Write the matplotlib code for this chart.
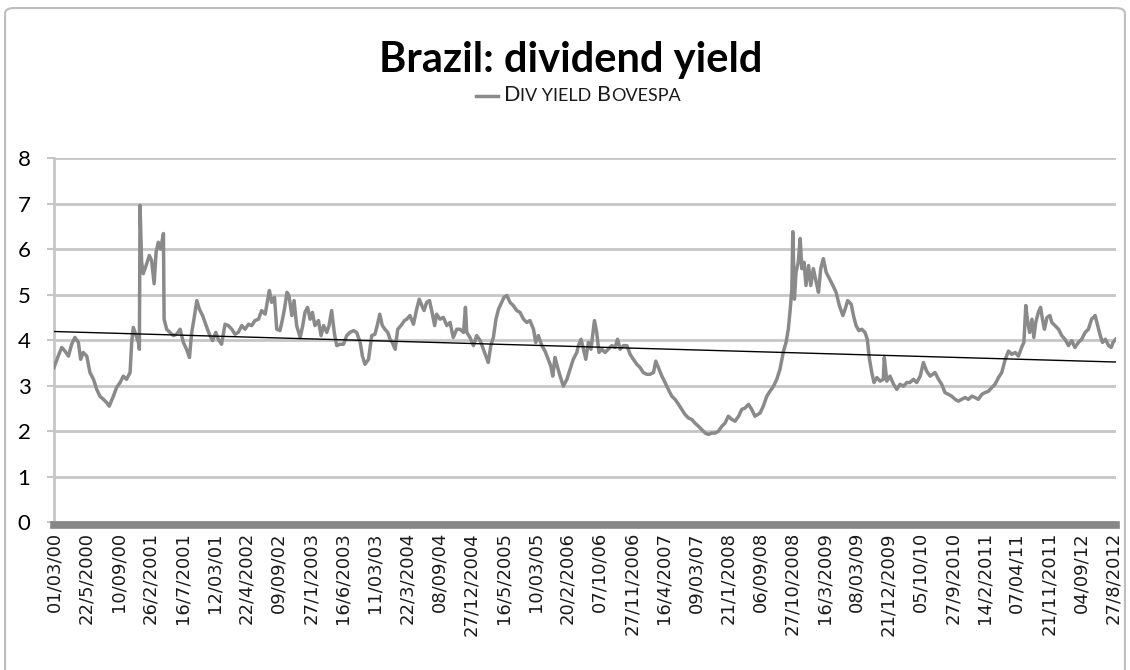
#Brazil: dividend yield (Bovespa), with linear trend line

import matplotlib.pyplot as plt
import numpy as np
from matplotlib.patches import FancyBboxPatch
from matplotlib.offsetbox import TextArea, HPacker, DrawingArea, AnchoredOffsetbox
from matplotlib.lines import Line2D

#Category axis labels, as printed under the chart
date_labels = ["01/03/00", "22/5/2000", "10/09/00", "26/2/2001", "16/7/2001", "12/03/01",
               "22/4/2002", "09/09/02", "27/1/2003", "16/6/2003", "11/03/03", "22/3/2004",
               "08/09/04", "27/12/2004", "16/5/2005", "10/03/05", "20/2/2006", "07/10/06",
               "27/11/2006", "16/4/2007", "09/03/07", "21/1/2008", "06/09/08", "27/10/2008",
               "16/3/2009", "08/03/09", "21/12/2009", "05/10/10", "27/9/2010", "14/2/2011",
               "07/04/11", "21/11/2011", "04/09/12", "27/8/2012"]

#Position of each reading along the category axis (label index units)
obs_pos = [0.00, 0.13, 0.24, 0.34, 0.45, 0.55, 0.65, 0.76, 0.83, 0.91, 1.02, 1.12, 1.23, 1.33,
           1.43, 1.54, 1.64, 1.72, 1.85, 1.95, 2.06, 2.16, 2.26, 2.37, 2.42, 2.47, 2.56, 2.63,
           2.66, 2.68, 2.73, 2.78, 2.87, 2.97, 3.04, 3.12, 3.18, 3.25, 3.32, 3.41, 3.43, 3.51,
           3.61, 3.72, 3.82, 3.93, 4.03, 4.13, 4.22, 4.29, 4.36, 4.45, 4.53, 4.63, 4.74, 4.84,
           4.94, 5.04, 5.12, 5.22, 5.33, 5.43,
           5.54, 5.64, 5.74, 5.85, 5.95, 6.06, 6.16, 6.26, 6.37, 6.47, 6.58, 6.66, 6.71, 6.78,
           6.87, 6.94, 7.04, 7.12, 7.18, 7.26, 7.32, 7.41, 7.48, 7.56, 7.67, 7.75, 7.82, 7.90,
           7.98, 8.05, 8.13, 8.24, 8.32, 8.40, 8.50, 8.57, 8.65, 8.74, 8.81, 8.91, 9.02, 9.12,
           9.22, 9.33, 9.43, 9.54, 9.61, 9.69, 9.80, 9.90, 10.00, 10.08, 10.15, 10.23, 10.31,
           10.40, 10.47, 10.54, 10.63, 10.71, 10.81, 10.92,
           10.99, 11.09, 11.20, 11.30, 11.38, 11.46, 11.53, 11.61, 11.70, 11.78, 11.86, 11.92,
           12.03, 12.13, 12.24, 12.34, 12.44, 12.55, 12.65, 12.76, 12.82, 12.86, 12.96, 13.07,
           13.17, 13.28, 13.38, 13.46, 13.53, 13.61, 13.69, 13.77, 13.85, 13.95, 14.02, 14.11,
           14.21, 14.31, 14.42, 14.52, 14.63, 14.73, 14.83, 14.94, 15.01, 15.09, 15.20, 15.30,
           15.40, 15.48, 15.54, 15.61, 15.68, 15.77, 15.87, 15.98, 16.08, 16.18, 16.29,
           16.34, 16.42, 16.50, 16.57, 16.65, 16.73, 16.84, 16.91, 16.98, 17.07, 17.17, 17.27,
           17.38, 17.48, 17.56, 17.64, 17.74, 17.85, 17.95, 18.05, 18.16, 18.26, 18.36, 18.47,
           18.57, 18.68, 18.75, 18.83, 18.94, 19.04, 19.14, 19.25, 19.35, 19.46, 19.56, 19.66,
           19.77, 19.87, 19.97, 20.08, 20.18, 20.29, 20.39, 20.49, 20.60, 20.70, 20.81, 20.91,
           21.01, 21.12, 21.22, 21.33, 21.43, 21.53, 21.64, 21.74, 21.84,
           22.00, 22.10, 22.21, 22.31, 22.42, 22.52, 22.62, 22.73, 22.81, 22.88, 22.94, 22.99,
           23.02, 23.07, 23.12, 23.19, 23.25, 23.30, 23.37, 23.43, 23.51, 23.58, 23.66, 23.75,
           23.82, 23.89, 23.97, 24.06, 24.16, 24.27, 24.37, 24.47, 24.58, 24.65, 24.73, 24.84,
           24.91, 24.99, 25.08, 25.17, 25.27, 25.34, 25.41, 25.48, 25.55, 25.64, 25.74, 25.84,
           25.87, 25.95, 26.05, 26.16, 26.26, 26.36, 26.47, 26.57, 26.67, 26.78, 26.88, 26.99,
           27.09, 27.19, 27.30,
           27.45, 27.56, 27.66, 27.76, 27.87, 27.97, 28.08, 28.18, 28.28, 28.39, 28.49, 28.60,
           28.70, 28.80, 28.91, 29.01, 29.12, 29.22, 29.32, 29.43, 29.53, 29.64, 29.74, 29.84,
           29.95, 30.05, 30.15, 30.22, 30.28, 30.34, 30.40, 30.47, 30.53, 30.59, 30.67, 30.74,
           30.80, 30.86, 30.94, 31.03, 31.09, 31.19, 31.30, 31.40, 31.50, 31.61, 31.71, 31.81,
           31.92, 32.02, 32.13, 32.23, 32.33, 32.44, 32.52, 32.60, 32.67, 32.76, 32.86, 32.94,
           33.00, 33.08]

#Dividend yield of the Bovespa index (%)
div_yield = [3.40, 3.65, 3.84, 3.76, 3.65, 3.91, 4.06, 3.95, 3.58, 3.73, 3.65, 3.29, 3.14, 2.92,
             2.77, 2.70, 2.63, 2.55, 2.77, 2.96, 3.07, 3.21, 3.14, 3.29, 3.95, 4.28, 4.10, 3.95,
             3.80, 6.96, 5.71, 5.46, 5.64, 5.86, 5.75, 5.24, 5.93, 6.15, 6.00, 6.34, 4.46, 4.24,
             4.17, 4.10, 4.13, 4.24, 3.95, 3.80, 3.62, 4.17, 4.46, 4.87, 4.68, 4.54, 4.32, 4.13,
             3.99, 4.17, 4.02, 3.91, 4.35, 4.32,
             4.24, 4.13, 4.17, 4.32, 4.24, 4.35, 4.32, 4.43, 4.46, 4.65, 4.57, 4.90, 5.09, 4.83,
             4.94, 4.24, 4.21, 4.46, 4.68, 5.05, 4.98, 4.54, 4.87, 4.32, 4.06, 4.32, 4.61, 4.72,
             4.46, 4.61, 4.32, 4.43, 4.10, 4.32, 4.17, 4.32, 4.65, 4.13, 3.88, 3.91, 3.91, 4.10,
             4.17, 4.21, 4.17, 3.95, 3.65, 3.47, 3.58, 4.10, 4.13, 4.35, 4.57, 4.32, 4.24,
             4.17, 4.02, 3.95, 3.80, 4.24, 4.32, 4.43,
             4.46, 4.54, 4.35, 4.68, 4.90, 4.76, 4.65, 4.83, 4.87, 4.61, 4.32, 4.57,
             4.46, 4.50, 4.32, 4.39, 4.06, 4.24, 4.24, 4.17, 4.72, 4.17, 4.06, 3.88,
             4.10, 3.99, 3.80, 3.65, 3.51, 3.88, 4.06, 4.46, 4.68, 4.83, 4.94, 4.98,
             4.83, 4.76, 4.65, 4.61, 4.46, 4.39, 4.43, 4.24, 3.95, 4.10, 3.88, 3.76,
             3.58, 3.43, 3.21, 3.62, 3.43, 3.21, 2.99, 3.14, 3.36, 3.58, 3.73,
             3.88, 4.02, 3.80, 3.58, 3.95, 3.80, 4.43, 4.17, 3.73, 3.80, 3.73, 3.80,
             3.88, 3.84, 4.02, 3.80, 3.88, 3.88, 3.69, 3.58, 3.47, 3.40, 3.29, 3.25,
             3.25, 3.29, 3.54, 3.40, 3.21, 3.07, 2.92, 2.77, 2.70, 2.59, 2.48, 2.37,
             2.29, 2.26, 2.18, 2.11, 2.04, 1.96, 1.93, 1.96, 1.96, 2.00, 2.11, 2.18,
             2.33, 2.26, 2.22, 2.33, 2.48, 2.51, 2.59, 2.48, 2.33,
             2.40, 2.55, 2.77, 2.88, 2.99, 3.14, 3.36, 3.76, 3.95, 4.24, 4.68, 5.13,
             6.38, 4.90, 5.49, 5.71, 6.23, 5.57, 5.71, 5.20, 5.64, 5.20, 5.57, 5.27,
             5.05, 5.57, 5.79, 5.49, 5.35, 5.20, 5.05, 4.76, 4.54, 4.68, 4.87, 4.79,
             4.54, 4.32, 4.21, 4.24, 4.17, 4.02, 3.58, 3.29, 3.07, 3.18, 3.10, 3.14,
             3.62, 3.10, 3.21, 3.03, 2.92, 3.03, 2.99, 3.07, 3.07, 3.14, 3.07, 3.21,
             3.51, 3.32, 3.21,
             3.29, 3.14, 3.03, 2.85, 2.81, 2.77, 2.70, 2.66, 2.70, 2.74, 2.70, 2.77,
             2.74, 2.70, 2.81, 2.85, 2.88, 2.96, 3.03, 3.18, 3.29, 3.58, 3.76, 3.69,
             3.73, 3.65, 3.84, 3.95, 4.76, 4.39, 4.17, 4.46, 4.06, 4.39, 4.61, 4.72,
             4.46, 4.24, 4.50, 4.54, 4.39, 4.32, 4.24, 4.10, 4.02, 3.88, 3.99, 3.84,
             3.95, 4.02, 4.17, 4.24, 4.46, 4.54, 4.32, 4.10, 3.95, 4.02, 3.88, 3.84,
             3.95, 4.02]

#Linear trend line as shown on the chart: value at first and last observation
trend_ends = [4.19, 3.52]

grid_grey = '#c6c6c6'

fig = plt.figure(figsize=(11.3, 6.7), dpi=100)

#Rounded outer chart border
fig.patches.append(FancyBboxPatch((0.0045, -0.05), 0.991, 1.038,
                                  boxstyle='round,pad=0,rounding_size=0.008',
                                  transform=fig.transFigure, facecolor='none',
                                  edgecolor='#bdbdbd', linewidth=1.5, zorder=-1))

ax = fig.add_axes([0.0478, 0.2204, 0.9398, 0.5438])
ax.set_facecolor('none')

#Spines first: moving a spine resets the tick settings
for side in ['top', 'right']:
    ax.spines[side].set_visible(False)
ax.spines['left'].set_color(grid_grey)
ax.spines['left'].set_linewidth(2)
ax.spines['bottom'].set_position(('outward', 2))
ax.spines['bottom'].set_color('#878787')
ax.spines['bottom'].set_linewidth(5.5)
ax.spines['bottom'].set_zorder(5)

#Plot the series and its linear trend
ax.plot(obs_pos, div_yield, color='#8a8a8a', linewidth=2.5, zorder=3)
ax.plot([obs_pos[0], obs_pos[-1]], trend_ends, color='black', linewidth=1.0, zorder=4)

#Formatting axes
ax.set_xlim(0, 33.09)
ax.set_ylim(0, 8)
ax.set_yticks(range(0, 9))
ax.set_yticklabels([str(v) for v in range(0, 9)], fontsize=16, family='Lato')
ax.set_xticks(range(len(date_labels)))
ax.set_xticklabels(date_labels, rotation=90, fontsize=13, family='DejaVu Sans', color='#1a1a1a')
ax.tick_params(axis='x', length=0, pad=5)
ax.tick_params(axis='y', length=5, width=1.5, color=grid_grey, pad=12)
ax.yaxis.grid(True, color=grid_grey, linewidth=2)
ax.set_axisbelow(True)

#Title
fig.text(0.505, 0.8925, 'Brazil: dividend yield', ha='center', va='baseline',
         fontsize=30, fontweight='bold', family='Lato')

#Legend with small caps label
swatch = DrawingArea(16, 10, 0, 0)
swatch.add_artist(Line2D([0, 16], [4, 4], color='#8a8a8a', linewidth=2.5))
big = dict(fontsize=15.5, family='Lato', color='#1a1a1a')
small = dict(fontsize=13, family='Lato', color='#1a1a1a')
word1 = HPacker(children=[TextArea('D', textprops=big), TextArea('IV YIELD', textprops=small)],
                align='baseline', pad=0, sep=0)
word2 = HPacker(children=[TextArea('B', textprops=big), TextArea('OVESPA', textprops=small)],
                align='baseline', pad=0, sep=0)
legend_box = HPacker(children=[swatch, word1, word2], align='center', pad=0, sep=4)
anchored = AnchoredOffsetbox(loc='center', child=legend_box, pad=0, borderpad=0, frameon=False,
                             bbox_to_anchor=(0.512, 1-95/670), bbox_transform=fig.transFigure)
ax.add_artist(anchored)

plt.savefig('out.png', dpi=100)
